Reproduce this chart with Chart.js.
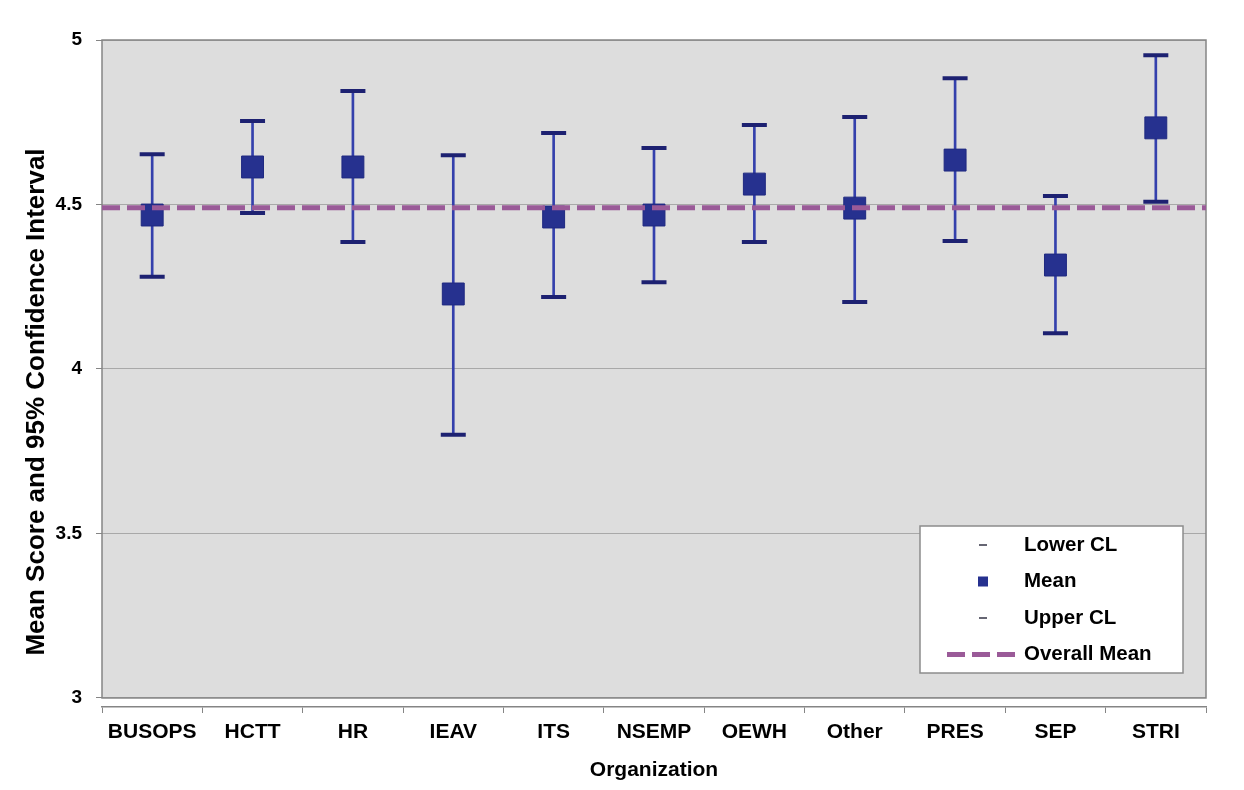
<!DOCTYPE html>
<html>
<head>
<meta charset="utf-8">
<script src="https://cdn.jsdelivr.net/npm/chart.js@4.4.1/dist/chart.umd.min.js"></script>
<style>
  html, body { margin: 0; padding: 0; background: #ffffff; }
  #wrap { position: relative; width: 1244px; height: 790px; }
</style>
</head>
<body>
<div id="wrap"><canvas id="c" width="1244" height="790"></canvas></div>
<script>
// ---- data ----
const categories = ['BUSOPS', 'HCTT', 'HR', 'IEAV', 'ITS', 'NSEMP', 'OEWH', 'Other', 'PRES', 'SEP', 'STRI'];
const meanValues = [4.468, 4.614, 4.614, 4.228, 4.462, 4.468, 4.562, 4.489, 4.635, 4.316, 4.733];
const upperCL    = [4.653, 4.754, 4.845, 4.650, 4.717, 4.672, 4.742, 4.766, 4.884, 4.526, 4.954];
const lowerCL    = [4.280, 4.474, 4.386, 3.800, 4.219, 4.264, 4.386, 4.204, 4.389, 4.109, 4.508];
const overallMean = 4.49;
const yTickValues = [3, 3.5, 4, 4.5, 5];
const legendLabels = ['Lower CL', 'Mean', 'Upper CL', 'Overall Mean'];
const xTitle = 'Organization';
const yTitle = 'Mean Score and 95% Confidence Interval';

// ---- styles ----
const FONT = "'Liberation Sans', Arial, sans-serif";
const capColor = '#1d2171';
const stemColor = '#3440ac';
const meanFill = '#26318f';
const meanLineColor = '#9a5a98';
const plotBg = '#dddddd';
const axisGray = '#858585';

const plotAreaPlugin = {
  id: 'plotArea',
  beforeDraw(chart) {
    const {ctx, chartArea, scales: {y}} = chart;
    const top = y.getPixelForValue(yTickValues[yTickValues.length - 1]);
    const bottom = y.getPixelForValue(yTickValues[0]);
    ctx.save();
    ctx.fillStyle = plotBg;
    ctx.fillRect(chartArea.left, top, chartArea.right - chartArea.left, bottom - top);
    ctx.restore();
  },
  beforeDatasetsDraw(chart) {
    const {ctx, chartArea, scales: {y}} = chart;
    const top = y.getPixelForValue(yTickValues[yTickValues.length - 1]);
    const bottom = y.getPixelForValue(yTickValues[0]);
    ctx.save();
    ctx.strokeStyle = axisGray;
    ctx.lineWidth = 1.5;
    ctx.strokeRect(chartArea.left, top, chartArea.right - chartArea.left, bottom - top);
    ctx.restore();
  },
  afterDraw(chart) {
    // y axis title, placed like the reference (centered a bit below the plot middle)
    const {ctx} = chart;
    ctx.save();
    ctx.translate(37, 402);
    ctx.rotate(-Math.PI / 2);
    ctx.font = 'bold 26px ' + FONT;
    ctx.fillStyle = '#000000';
    ctx.textAlign = 'center';
    ctx.textBaseline = 'middle';
    ctx.fillText(yTitle, 0, 0);
    ctx.restore();
  }
};

const overallMeanPlugin = {
  id: 'overallMean',
  afterDatasetsDraw(chart) {
    const {ctx, chartArea, scales: {y}} = chart;
    const py = y.getPixelForValue(overallMean);
    ctx.save();
    ctx.strokeStyle = meanLineColor;
    ctx.lineWidth = 5;
    ctx.setLineDash([18, 7]);
    ctx.beginPath();
    ctx.moveTo(chartArea.left, py);
    ctx.lineTo(chartArea.right, py);
    ctx.stroke();
    ctx.restore();
  }
};

const legendPlugin = {
  id: 'customLegend',
  afterDraw(chart) {
    const {ctx, chartArea} = chart;
    const boxRight = chartArea.right - 23;
    const boxLeft = boxRight - 263;
    const boxTop = 526;
    const boxH = 147;
    ctx.save();
    ctx.fillStyle = '#ffffff';
    ctx.fillRect(boxLeft, boxTop, boxRight - boxLeft, boxH);
    ctx.strokeStyle = '#8c8c8c';
    ctx.lineWidth = 1.5;
    ctx.strokeRect(boxLeft, boxTop, boxRight - boxLeft, boxH);
    const symX = boxLeft + 63;
    const textX = boxLeft + 104;
    ctx.font = 'bold 20.5px ' + FONT;
    ctx.textBaseline = 'middle';
    ctx.textAlign = 'left';
    legendLabels.forEach((lab, i) => {
      const cy = boxTop + 19 + i * 36.5;
      ctx.fillStyle = '#000000';
      ctx.fillText(lab, textX, cy);
      if (i === 0 || i === 2) {
        ctx.strokeStyle = '#333344';
        ctx.lineWidth = 1.5;
        ctx.setLineDash([]);
        ctx.beginPath();
        ctx.moveTo(symX - 4, cy);
        ctx.lineTo(symX + 4, cy);
        ctx.stroke();
      } else if (i === 1) {
        ctx.fillStyle = meanFill;
        ctx.fillRect(symX - 5, cy - 5, 10, 10);
      } else {
        ctx.strokeStyle = meanLineColor;
        ctx.lineWidth = 5;
        ctx.setLineDash([18, 7]);
        ctx.beginPath();
        ctx.moveTo(symX - 36, cy);
        ctx.lineTo(symX + 32, cy);
        ctx.stroke();
      }
    });
    ctx.restore();
  }
};

new Chart(document.getElementById('c'), {
  type: 'bar',
  data: {
    labels: categories,
    datasets: [
      {
        type: 'bar',
        label: 'CI',
        data: lowerCL.map((l, i) => [l, upperCL[i]]),
        backgroundColor: stemColor,
        barThickness: 2,
        order: 3
      },
      {
        type: 'line',
        label: legendLabels[0],
        data: lowerCL,
        showLine: false,
        pointStyle: 'line',
        pointRadius: 12.5,
        pointBorderWidth: 4,
        pointBorderColor: capColor,
        order: 2
      },
      {
        type: 'line',
        label: legendLabels[2],
        data: upperCL,
        showLine: false,
        pointStyle: 'line',
        pointRadius: 12.5,
        pointBorderWidth: 4,
        pointBorderColor: capColor,
        order: 2
      },
      {
        type: 'line',
        label: legendLabels[1],
        data: meanValues,
        showLine: false,
        pointStyle: 'rect',
        pointRadius: 15.5,
        pointBackgroundColor: meanFill,
        pointBorderColor: '#1f2980',
        pointBorderWidth: 1,
        order: 1
      }
    ]
  },
  options: {
    responsive: false,
    animation: false,
    events: [],
    layout: { padding: { top: 40, right: 38, bottom: 0, left: 0 } },
    plugins: {
      legend: { display: false },
      tooltip: { enabled: false }
    },
    scales: {
      x: {
        type: 'category',
        offset: true,
        grid: { offset: true, drawOnChartArea: false, drawTicks: true, tickLength: 6, color: axisGray, lineWidth: 1 },
        border: { display: true, color: axisGray, width: 1.5 },
        ticks: { font: { family: FONT, size: 21, weight: 'bold' }, color: '#000000', padding: 7, maxRotation: 0, autoSkip: false },
        title: { display: true, text: xTitle, font: { family: FONT, size: 21, weight: 'bold' }, color: '#000000', padding: { top: 0, bottom: 7 } },
        afterFit: (s) => { s.height = 83; }
      },
      y: {
        min: 2.9726,
        max: 5,
        afterBuildTicks: (s) => { s.ticks = yTickValues.map(v => ({ value: v })); },
        grid: { color: '#a8a8a8', lineWidth: 1, drawTicks: true, tickLength: 6, tickColor: axisGray },
        border: { display: false },
        ticks: { font: { family: FONT, size: 19, weight: 'bold' }, color: '#000000', padding: 14, callback: (v) => String(v) },
        title: { display: false, text: yTitle },
        afterFit: (s) => { s.width = 102; }
      }
    }
  },
  plugins: [plotAreaPlugin, overallMeanPlugin, legendPlugin]
});
</script>
</body>
</html>
